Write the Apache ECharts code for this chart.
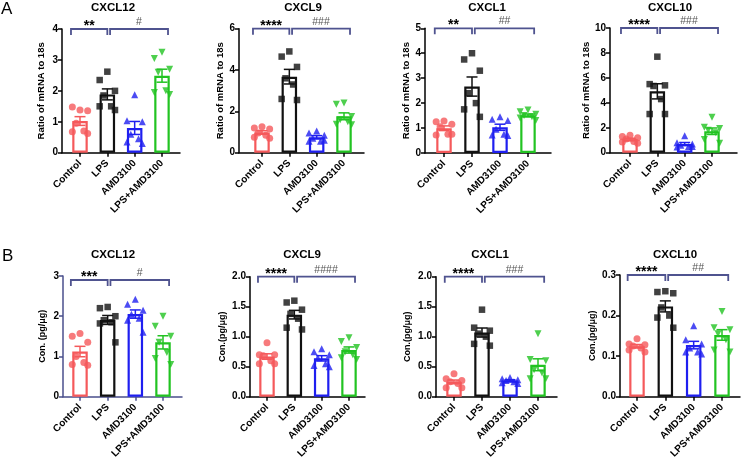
<!DOCTYPE html>
<html><head><meta charset="utf-8">
<script src="https://cdn.jsdelivr.net/npm/echarts@6/dist/echarts.min.js"></script>
<style>html,body{margin:0;padding:0;background:#fff}#c{width:743px;height:461px}</style>
</head><body><div id="c"></div>
<script>
// ---------- DATA ----------
const categories = ['Control', 'LPS', 'AMD3100', 'LPS+AMD3100'];
const panelTitles = ['CXCL12', 'CXCL9', 'CXCL1', 'CXCL10', 'CXCL12', 'CXCL9', 'CXCL1', 'CXCL10'];
const yAxisNames = ['Ratio of mRNA to 18s', 'Ratio of mRNA to 18s', 'Ratio of mRNA to 18s', 'Ratio of mRNA to 18s',
  'Con. (pg/\u03bcg)', 'Con.(pg/\u03bcg)', 'Con.(pg/\u03bcg)', 'Con.(pg/\u03bcg)'];
const yMax = [4, 6, 5, 10, 3, 2, 2, 0.3];
const yStep = [1, 2, 1, 2, 1, 0.5, 0.5, 0.1];
const yDecimals = [0, 0, 0, 0, 0, 1, 1, 1];
const sigLPS = ['**', '****', '**', '****', '***', '****', '****', '****'];
const sigAMD = ['#', '###', '##', '###', '#', '####', '###', '##'];
const bracketLevel = [4, 6, 5, 10, 2.9, 2, 2, 0.3];

// individual points: [Control, LPS, AMD3100, LPS+AMD3100]
const mrnaCXCL12 = [[1.38, 1.48, 1.36, 0.95, 0.70, 0.68, 0.62], [2.62, 2.35, 2.0, 1.85, 1.5, 1.5, 1.38], [1.87, 1.03, 1.0, 0.6, 0.45, 0.35, 0.3], [3.25, 3.05, 2.7, 2.6, 2.0, 1.95, 1.88]];
const mrnaCXCL9 = [[1.25, 1.2, 1.15, 0.95, 0.85, 0.75, 0.7], [4.9, 4.65, 4.15, 3.6, 3.3, 2.6, 2.55], [1.05, 0.95, 0.85, 0.7, 0.55, 0.55, 0.6], [2.4, 2.35, 1.75, 1.6, 1.5, 1.38, 1.35]];
const mrnaCXCL1 = [[1.28, 1.25, 1.15, 1.05, 0.75, 0.72, 0.75], [4.0, 3.75, 3.3, 2.4, 2.0, 1.75, 1.45], [1.45, 1.35, 1.3, 0.95, 0.75, 0.72, 0.7], [1.72, 1.65, 1.55, 1.5, 1.45, 1.4, 1.3]];
const mrnaCXCL10 = [[1.4, 1.3, 1.2, 1.1, 0.9, 0.85, 0.75], [7.7, 5.5, 5.4, 5.35, 4.3, 3.1, 3.1], [1.35, 0.8, 0.7, 0.6, 0.5, 0.45, 0.5], [2.85, 2.05, 1.95, 1.8, 1.6, 1.05, 0.75]];
const conCXCL12 = [[1.57, 1.5, 1.35, 1.0, 0.85, 0.8, 0.78], [2.23, 2.2, 2.0, 1.9, 1.85, 1.82, 1.35], [2.42, 2.3, 2.15, 2.05, 1.95, 1.9, 1.6], [2.0, 1.75, 1.5, 1.35, 1.1, 0.95, 0.8]];
const conCXCL9 = [[0.9, 0.7, 0.7, 0.68, 0.6, 0.55, 0.55], [1.6, 1.57, 1.45, 1.38, 1.3, 1.15, 1.12], [0.8, 0.75, 0.7, 0.65, 0.55, 0.52, 0.5], [0.98, 0.92, 0.82, 0.75, 0.7, 0.65, 0.62]];
const conCXCL1 = [[0.38, 0.3, 0.27, 0.25, 0.22, 0.15, 0.15], [1.45, 1.15, 1.1, 1.05, 1.0, 0.88, 0.85], [0.32, 0.3, 0.28, 0.27, 0.25, 0.23, 0.22], [1.05, 0.62, 0.6, 0.45, 0.4, 0.3, 0.3]];
const conCXCL10 = [[0.143, 0.13, 0.128, 0.125, 0.12, 0.115, 0.11], [0.26, 0.258, 0.255, 0.22, 0.2, 0.195, 0.17], [0.175, 0.14, 0.13, 0.12, 0.11, 0.11, 0.105], [0.21, 0.17, 0.165, 0.155, 0.14, 0.115, 0.11]];
const panelData = [mrnaCXCL12, mrnaCXCL9, mrnaCXCL1, mrnaCXCL10, conCXCL12, conCXCL9, conCXCL1, conCXCL10];

// ---------- LAYOUT / STYLE ----------
// [axisX, firstBarX, lastBarX, axisEndX, topPx, zeroPx, nameGap, titleX, titleY]
const layout = [
  [62, 80, 162, 180, 29, 152.7, 16, 113, 8],
  [239, 262, 344, 364, 28.7, 152.7, 12, 303, 8],
  [425, 444, 528, 551, 28.3, 153, 14, 487, 8],
  [610, 630, 712, 737, 28, 152.7, 14, 670, 8],
  [63, 80, 163, 182, 276, 400, 16, 113, 255],
  [250, 267, 349, 365, 276.7, 400.7, 23, 302, 255],
  [436, 454, 538, 557, 276.7, 400, 24, 490, 255],
  [620, 637, 722, 740, 275, 398, 23, 675, 255]
];
const FONT = '"Liberation Sans", Arial, sans-serif';
const groupColors = ['#f5595b', '#111111', '#1f1ff0', '#22c322'];
const symbols = ['circle', 'rect', 'triangle', 'triangle'];
const symbolRot = [0, 0, 0, 180];
const jitter = [0, -0.28, 0.28, -0.14, 0.14, -0.28, 0.28];
const bracketColor = '#4f538f';

function mean(a) { return a.reduce((s, v) => s + v, 0) / a.length; }
function sem(a) { const m = mean(a); return Math.sqrt(a.reduce((s, v) => s + (v - m) * (v - m), 0) / (a.length - 1)) / Math.sqrt(a.length); }

const grids = [], xAxes = [], yAxes = [], series = [], graphics = [];
panelData.forEach((groups, p) => {
  const [ax, fb, lb, ex, tp, zp, ng, tx, ty] = layout[p];
  const sp = (lb - fb) / 3;
  const axisColor = p === 4 ? '#4a4f8c' : '#000';
  grids.push({ left: ax, top: tp, width: ex - ax, height: zp - tp, containLabel: false });
  xAxes.push({
    gridIndex: p, type: 'value', min: -(fb - ax) / sp, max: 3 + (ex - lb) / sp,
    splitLine: { show: false },
    axisLine: { onZero: false, lineStyle: { color: axisColor, width: 1.5 } },
    axisTick: { customValues: [0, 1, 2, 3], length: 4, lineStyle: { color: axisColor, width: 1.5 } },
    axisLabel: { customValues: [0, 1, 2, 3], rotate: 45, margin: 9, fontFamily: FONT, fontWeight: 'bold', fontSize: 10, color: '#000',
      formatter: v => categories[Math.round(v)] }
  });
  yAxes.push({
    gridIndex: p, type: 'value', min: 0, max: yMax[p], interval: yStep[p],
    splitLine: { show: false },
    axisLine: { show: true, onZero: false, lineStyle: { color: axisColor, width: 1.5 } },
    axisTick: { show: true, length: 4, lineStyle: { color: axisColor, width: 1.5 } },
    axisLabel: { margin: 4, fontFamily: FONT, fontWeight: 'bold', fontSize: 10, color: '#000',
      formatter: v => v.toFixed(yDecimals[p]) },
    name: yAxisNames[p], nameLocation: 'middle', nameGap: ng,
    nameTextStyle: { fontFamily: FONT, fontWeight: 'bold', fontSize: p < 4 ? 9.5 : 9, color: '#000' }
  });
  // bars
  series.push({
    type: 'bar', xAxisIndex: p, yAxisIndex: p, barWidth: 15.5, z: 2,
    data: groups.map((g, i) => ({ value: [i, mean(g)], itemStyle: { color: '#fff', borderColor: groupColors[i], borderWidth: 2.2 } }))
  });
  // error bars
  series.push({
    type: 'custom', xAxisIndex: p, yAxisIndex: p, z: 3,
    data: groups.map((g, i) => [i, mean(g), sem(g)]),
    renderItem: (params, api) => {
      const x = api.value(0), m = api.value(1), s = api.value(2);
      const c = groupColors[params.dataIndex];
      const t = api.coord([x, m + s]), b = api.coord([x, m - s]);
      const hw = 5.5, st = { stroke: c, lineWidth: 1.5 };
      return { type: 'group', children: [
        { type: 'line', shape: { x1: t[0], y1: t[1], x2: b[0], y2: b[1] }, style: st },
        { type: 'line', shape: { x1: t[0] - hw, y1: t[1], x2: t[0] + hw, y2: t[1] }, style: st },
        { type: 'line', shape: { x1: b[0] - hw, y1: b[1], x2: b[0] + hw, y2: b[1] }, style: st }
      ] };
    }
  });
  // points
  groups.forEach((g, i) => {
    series.push({
      type: 'scatter', xAxisIndex: p, yAxisIndex: p, z: 4,
      symbol: symbols[i], symbolRotate: symbolRot[i], symbolSize: i === 1 ? 6.5 : 7,
      itemStyle: { color: groupColors[i] },
      data: g.map((v, k) => [i + jitter[k % jitter.length], v])
    });
  });
  // significance brackets
  const lvl = bracketLevel[p];
  series.push({
    type: 'custom', xAxisIndex: p, yAxisIndex: p, z: 5, clip: false,
    data: [[-0.33, 1.0, lvl], [1.1, 3.22, lvl]],
    renderItem: (params, api) => {
      const a = api.coord([api.value(0), api.value(2)]), b = api.coord([api.value(1), api.value(2)]);
      const first = params.dataIndex === 0;
      const txt = first ? sigLPS[p] : sigAMD[p];
      return { type: 'group', children: [
        { type: 'polyline', shape: { points: [[a[0], a[1] + 6], [a[0], a[1]], [b[0], b[1]], [b[0], b[1] + 6]] },
          style: { stroke: bracketColor, lineWidth: 1.8, fill: null } },
        { type: 'text', x: (a[0] + b[0]) / 2, y: first ? a[1] - 3 : a[1] - 7,
          style: { text: txt, font: first ? 'bold 14px ' + FONT : '10.5px ' + FONT, fill: first ? '#000' : '#555',
            align: 'center', verticalAlign: 'middle', textAlign: 'center', textVerticalAlign: 'middle' } }
      ] };
    }
  });
  graphics.push({ type: 'text', x: tx, y: ty, style: { text: panelTitles[p], font: 'bold 11.5px ' + FONT, fill: '#000',
    align: 'center', verticalAlign: 'middle', textAlign: 'center', textVerticalAlign: 'middle' } });
});
graphics.push({ type: 'text', x: 1, y: 1, style: { text: 'A', font: '17px ' + FONT, fill: '#000' } });
graphics.push({ type: 'text', x: 2, y: 248, style: { text: 'B', font: '17px ' + FONT, fill: '#000' } });

const chart = echarts.init(document.getElementById('c'));
chart.setOption({
  animation: false, backgroundColor: '#fff',
  grid: grids, xAxis: xAxes, yAxis: yAxes, series: series, graphic: graphics
});
</script></body></html>
